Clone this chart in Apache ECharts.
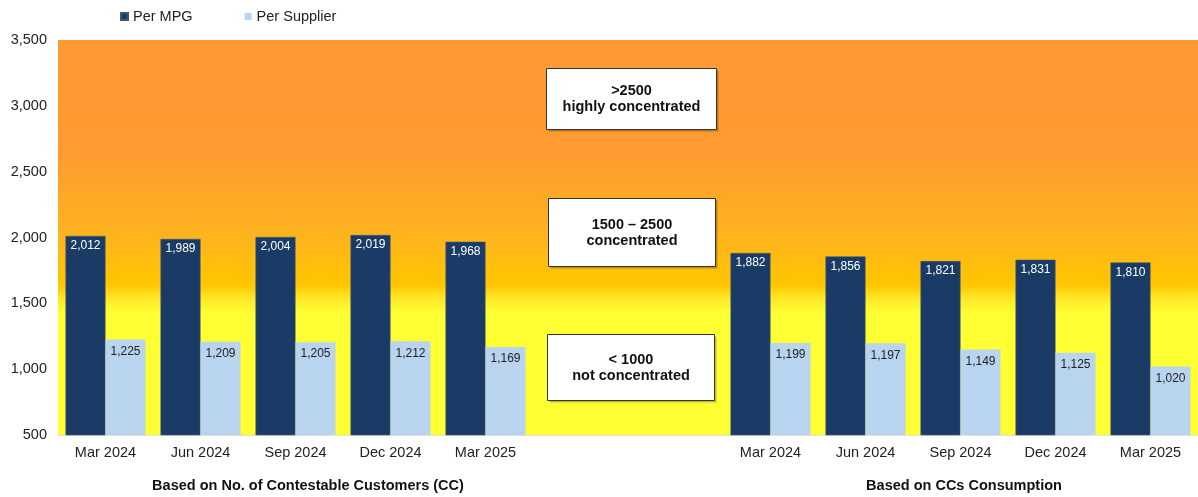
<!DOCTYPE html>
<html>
<head>
<meta charset="utf-8">
<script src="https://cdn.jsdelivr.net/npm/echarts@6/dist/echarts.min.js"></script>
<style>
  html, body { margin: 0; padding: 0; background: #ffffff; }
  #chart { width: 1198px; height: 497px; }
</style>
</head>
<body>
<div id="chart"></div>
<script>
// Quarter labels; two blank slots separate the two measurement groups
const categories = ['Mar 2024', 'Jun 2024', 'Sep 2024', 'Dec 2024', 'Mar 2025', '', '',
                    'Mar 2024', 'Jun 2024', 'Sep 2024', 'Dec 2024', 'Mar 2025'];
const perMPG      = [2012, 1989, 2004, 2019, 1968, null, null, 1882, 1856, 1821, 1831, 1810];
const perSupplier = [1225, 1209, 1205, 1212, 1169, null, null, 1199, 1197, 1149, 1125, 1020];
const yTicks = { min: 500, max: 3500, interval: 500 };
const groupTitles = ['Based on No. of Contestable Customers (CC)', 'Based on CCs Consumption'];
const bandNotes = [
  ['>2500', 'highly concentrated'],
  ['1500 \u2013 2500', 'concentrated'],
  ['< 1000', 'not concentrated']
];

const FONT = '"Liberation Sans", Arial, sans-serif';
const FS = 14.5;
const chart = echarts.init(document.getElementById('chart'));

function noteBox(lines, left, top, w, h) {
  return {
    type: 'group', left: left, top: top,
    children: [
      { type: 'rect', shape: { x: 2, y: 2, width: w, height: h },
        style: { fill: 'rgba(0,0,0,0.25)' } },
      { type: 'rect', shape: { x: 0, y: 0, width: w, height: h },
        style: { fill: '#ffffff', stroke: '#333333', lineWidth: 1 } },
      { type: 'text', x: w / 2, y: h / 2,
        style: { text: lines.join('\n'), fill: '#111111', font: 'bold ' + FS + 'px ' + FONT,
                 align: 'center', verticalAlign: 'middle', lineHeight: 16 } }
    ]
  };
}

const fmt = p => p.value == null ? '' : p.value.toLocaleString('en-US');

chart.setOption({
  animation: false,
  backgroundColor: '#ffffff',
  textStyle: { fontFamily: FONT },
  legend: {
    top: 4, left: 115, itemGap: 52,
    itemWidth: 7, itemHeight: 7, icon: 'rect',
    textStyle: { fontSize: FS, color: '#222', fontFamily: FONT },
    data: ['Per MPG', 'Per Supplier']
  },
  grid: {
    left: 58, right: -2, top: 40, bottom: 62,
    show: true, borderWidth: 0,
    backgroundColor: new echarts.graphic.LinearGradient(0, 0, 0, 1, [
      { offset: 0.00, color: '#FF9933' },
      { offset: 0.28, color: '#FF9B31' },
      { offset: 0.50, color: '#FFB41E' },
      { offset: 0.62, color: '#FFC600' },
      { offset: 0.655, color: '#FFE828' },
      { offset: 0.69, color: '#FFFF33' },
      { offset: 1.00, color: '#FFFF33' }
    ])
  },
  xAxis: {
    type: 'category', data: categories,
    axisLine: { show: true, lineStyle: { color: '#e0e0e0' } },
    axisTick: { show: false },
    axisLabel: { fontSize: FS, color: '#222', margin: 10, interval: 0, fontFamily: FONT }
  },
  yAxis: {
    type: 'value', min: yTicks.min, max: yTicks.max, interval: yTicks.interval,
    splitLine: { show: false },
    axisLine: { show: false }, axisTick: { show: false },
    axisLabel: { fontSize: FS, color: '#222', margin: 11, fontFamily: FONT,
                 formatter: v => v.toLocaleString('en-US') }
  },
  series: [
    {
      name: 'Per MPG', type: 'bar', data: perMPG, barWidth: 40, barGap: '0%',
      itemStyle: { color: '#1A3B66', borderColor: '#3F5878', borderWidth: 0.6 },
      label: { show: true, position: 'insideTop', distance: 4, color: '#ffffff',
               fontSize: 12, fontFamily: FONT, formatter: fmt }
    },
    {
      name: 'Per Supplier', type: 'bar', data: perSupplier, barWidth: 40,
      itemStyle: { color: '#B9D4EF' },
      label: { show: true, position: 'insideTop', distance: 6, color: '#222222',
               fontSize: 12, fontFamily: FONT, formatter: fmt }
    }
  ],
  graphic: [
    noteBox(bandNotes[0], 546, 68, 170, 61),
    noteBox(bandNotes[1], 548, 198, 167, 68),
    noteBox(bandNotes[2], 547, 334, 167, 66),
    { type: 'text', x: 308, y: 486,
      style: { text: groupTitles[0], font: 'bold ' + FS + 'px ' + FONT, fill: '#111',
               align: 'center', verticalAlign: 'middle' } },
    { type: 'text', x: 964, y: 486,
      style: { text: groupTitles[1], font: 'bold ' + FS + 'px ' + FONT, fill: '#111',
               align: 'center', verticalAlign: 'middle' } }
  ]
});
</script>
</body>
</html>
